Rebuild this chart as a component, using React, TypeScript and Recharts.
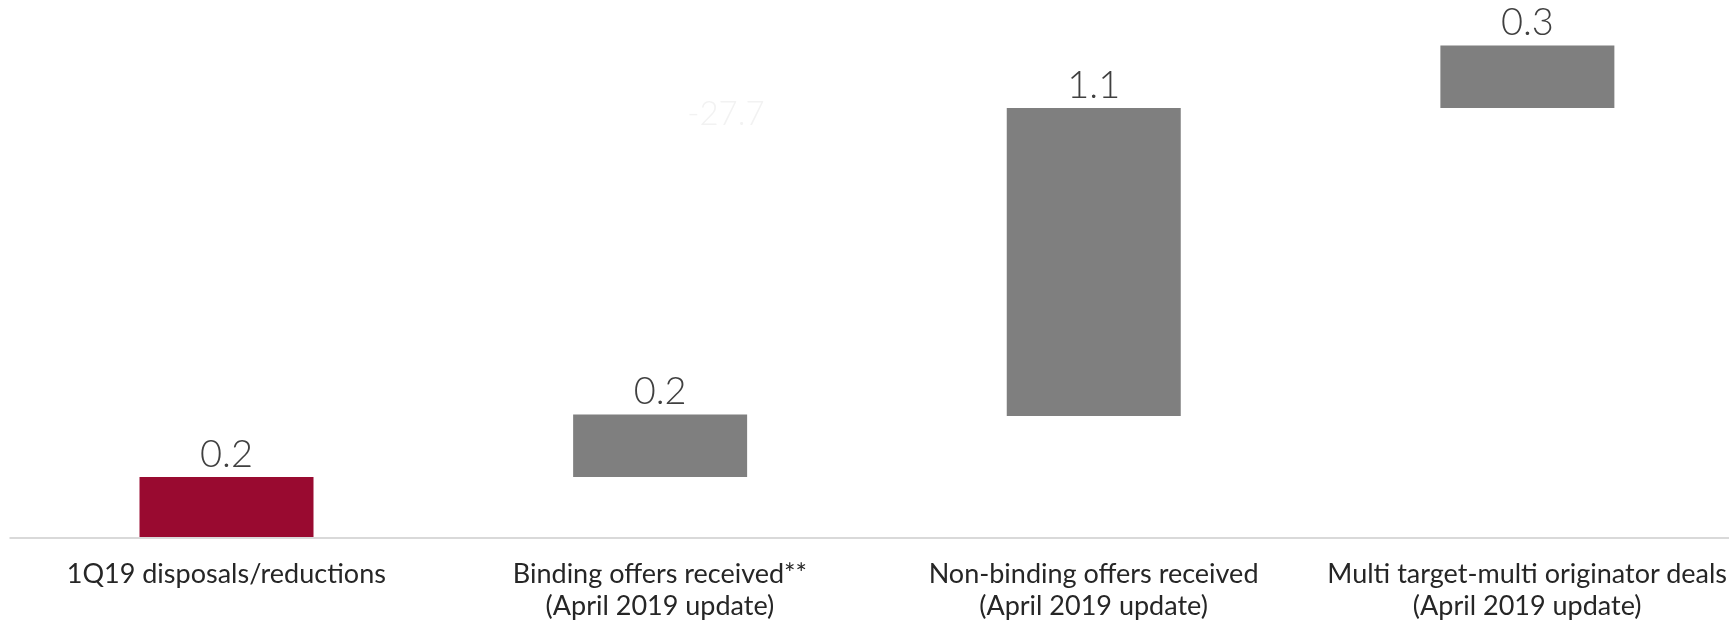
import { BarChart, Bar, XAxis, YAxis, Cell, LabelList, ReferenceDot } from "recharts";

// waterfall steps (bn)
const categories = [
  "1Q19 disposals/reductions",
  "Binding offers received**\n(April 2019 update)",
  "Non-binding offers received\n(April 2019 update)",
  "Multi target-multi originator deals\n(April 2019 update)",
];
const bases = [0, 0.2, 0.4, 1.41];
const steps = [0.2, 0.205, 1.01, 0.205];
const valueLabels = ["0.2", "0.2", "1.1", "0.3"];

// faint leftover label sitting over the second column
const ghostValue = 1.393;
const ghostText = "-27.7";

const RED = "#990a30";
const GREY = "#7f7f7f";

const data = categories.map((name, i) => ({
  name,
  base: bases[i],
  step: steps[i],
  label: valueLabels[i],
}));

function CategoryTick(props: any) {
  const { x, y, payload } = props;
  const lines = String(payload.value).split("\n");
  return (
    <text x={x} y={y} textAnchor="middle" fontFamily="Lato" fontSize={27} fill="#262626">
      {lines.map((l, i) => (
        <tspan key={i} x={x} dy={i === 0 ? 45 : 32}>
          {l}
        </tspan>
      ))}
    </text>
  );
}

function ValueLabel(props: any) {
  const { x, y, width, value } = props;
  return (
    <text
      x={Number(x) + Number(width) / 2}
      y={Number(y) - 10}
      textAnchor="middle"
      fontFamily="Lato"
      fontWeight={300}
      fontSize={38}
      fill="#404040"
    >
      {value}
    </text>
  );
}

function GhostLabel(props: any) {
  const { viewBox } = props;
  return (
    <text
      x={viewBox.x + 66}
      y={viewBox.y + 12}
      textAnchor="middle"
      fontFamily="Lato"
      fontWeight={300}
      fontSize={33}
      fill="#f2f2f2"
    >
      {ghostText}
    </text>
  );
}

export default function App() {
  return (
    <div style={{ position: "fixed", left: 0, top: 0, width: 1729, height: 621, overflow: "hidden" }}>
      <BarChart
        width={1744}
        height={621}
        data={data}
        margin={{ top: 19.5, right: 0, bottom: 0, left: 9.5 }}
      >
        <XAxis
          dataKey="name"
          interval={0}
          height={83}
          tickSize={0}
          tickMargin={0}
          tickLine={false}
          axisLine={{ stroke: "#d9d9d9", strokeWidth: 2 }}
          tick={<CategoryTick />}
        />
        <YAxis hide domain={[0, 1.7]} />
        <Bar dataKey="base" stackId="w" fill="transparent" barSize={174} isAnimationActive={false} />
        <Bar dataKey="step" stackId="w" barSize={174} isAnimationActive={false}>
          {data.map((_, i) => (
            <Cell key={i} fill={i === 0 ? RED : GREY} />
          ))}
          <LabelList dataKey="label" content={ValueLabel} />
        </Bar>
        <ReferenceDot
          x={categories[1]}
          y={ghostValue}
          r={0}
          fill="none"
          stroke="none"
          label={<GhostLabel />}
        />
      </BarChart>
    </div>
  );
}
